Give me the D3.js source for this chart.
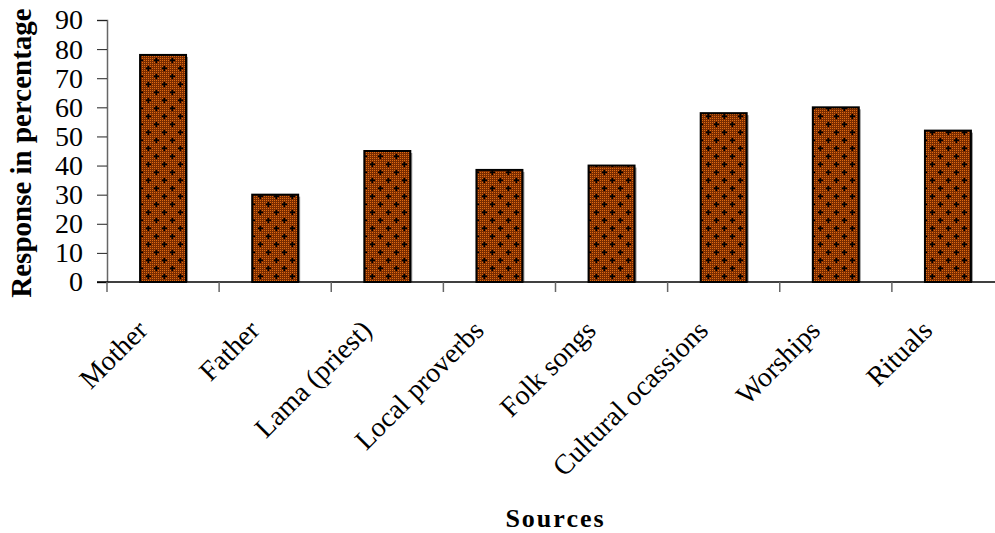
<!DOCTYPE html>
<html>
<head>
<meta charset="utf-8">
<script src="https://cdn.jsdelivr.net/npm/d3@7"></script>
<style>
  body { margin: 0; background: #fff; }
  svg { display: block; }
</style>
</head>
<body>
<div id="chart"></div>
<script>
// data
const sources = ["Mother", "Father", "Lama (priest)", "Local proverbs", "Folk songs", "Cultural ocassions", "Worships", "Rituals"];
const responses = [78, 30, 45, 38.5, 40, 58, 60, 52];
const yTicks = [0, 10, 20, 30, 40, 50, 60, 70, 80, 90];

const width = 995;
const height = 533;
const margin = {t: 20, b: 251, l: 107, r: -9};
const serif = "'Liberation Serif', 'Times New Roman', serif";

const svg = d3.select("#chart")
    .append("svg")
    .attr("width", width)
    .attr("height", height)
    .attr("viewBox", [0, 0, width, height]);

// hatch fill like the office chart: brown with orange dots and black crosses
const defs = svg.append("defs");
const pat = defs.append("pattern")
    .attr("id", "dots")
    .attr("patternUnits", "userSpaceOnUse")
    .attr("width", 16)
    .attr("height", 16);
pat.append("rect").attr("width", 16).attr("height", 16).attr("fill", "#7a2c00");
for (let i = 0; i < 16; i += 2) {
    for (let j = 0; j < 16; j += 2) {
        pat.append("rect")
            .attr("x", i)
            .attr("y", j)
            .attr("width", 1)
            .attr("height", 1)
            .attr("fill", "#dc6a12");
    }
}
[[4, 4], [12, 12]].forEach(([cx, cy]) => {
    pat.append("rect").attr("x", cx - 2).attr("y", cy - 0.5).attr("width", 5).attr("height", 1.5).attr("fill", "#000");
    pat.append("rect").attr("x", cx - 0.5).attr("y", cy - 2).attr("width", 1.5).attr("height", 5).attr("fill", "#000");
});

// scales
const xScale = d3.scaleBand()
    .domain(sources)
    .range([margin.l, width - margin.r])
    .paddingInner(0.59)
    .paddingOuter(0.295);

const yScale = d3.scaleLinear()
    .domain([0, 90])
    .range([height - margin.b, margin.t]);

// y axis
const yAxis = d3.axisLeft(yScale)
    .tickValues(yTicks)
    .tickSize(10)
    .tickPadding(14);
const gy = svg.append("g")
    .attr("transform", `translate(${margin.l}, 0)`)
    .call(yAxis);
gy.select(".domain").attr("stroke", "#666").attr("stroke-width", 1.5);
gy.selectAll(".tick line").attr("stroke", "#222");
gy.selectAll(".tick text")
    .attr("font-family", serif)
    .attr("font-size", "28px")
    .attr("fill", "#000");

// bars (shadow first)
svg.selectAll("rect.shadow")
    .data(responses)
    .enter()
    .append("rect")
    .attr("class", "shadow")
    .attr("x", (d, i) => xScale(sources[i]) + 2)
    .attr("y", d => yScale(d) + 2)
    .attr("width", xScale.bandwidth())
    .attr("height", d => yScale(0) - yScale(d) - 2)
    .attr("fill", "#999");

svg.selectAll("rect.bar")
    .data(responses)
    .enter()
    .append("rect")
    .attr("class", "bar")
    .attr("x", (d, i) => xScale(sources[i]))
    .attr("y", d => yScale(d))
    .attr("width", xScale.bandwidth())
    .attr("height", d => yScale(0) - yScale(d))
    .attr("fill", "url(#dots)")
    .attr("stroke", "#000")
    .attr("stroke-width", 2);

// x axis line and tick marks at category boundaries
const y0 = yScale(0);
svg.append("line")
    .attr("x1", margin.l - 10)
    .attr("x2", width)
    .attr("y1", y0)
    .attr("y2", y0)
    .attr("stroke", "#000")
    .attr("stroke-width", 1.5);

const step = xScale.step();
svg.selectAll("line.xtick")
    .data(sources)
    .enter()
    .append("line")
    .attr("class", "xtick")
    .attr("x1", d => xScale(d) + xScale.bandwidth() / 2 - step / 2)
    .attr("x2", d => xScale(d) + xScale.bandwidth() / 2 - step / 2)
    .attr("y1", y0)
    .attr("y2", y0 + 10)
    .attr("stroke", "#666")
    .attr("stroke-width", 1.5);

// category labels, rotated
svg.selectAll("text.xlabel")
    .data(sources)
    .enter()
    .append("text")
    .attr("class", "xlabel")
    .attr("transform", d => `translate(${xScale(d) + xScale.bandwidth() / 2 - 14}, ${y0 + 50}) rotate(-45)`)
    .attr("text-anchor", "end")
    .attr("font-family", serif)
    .attr("font-size", "28px")
    .attr("fill", "#000")
    .text(d => d);

// titles
svg.append("text")
    .attr("transform", `translate(31, ${(margin.t + y0) / 2 + 2}) rotate(-90)`)
    .attr("text-anchor", "middle")
    .attr("font-family", serif)
    .attr("font-weight", "bold")
    .attr("font-size", "29px")
    .attr("fill", "#000")
    .text("Response in percentage");

svg.append("text")
    .attr("x", (margin.l + width - margin.r) / 2)
    .attr("y", 527)
    .attr("text-anchor", "middle")
    .attr("font-family", serif)
    .attr("font-weight", "bold")
    .attr("font-size", "26px")
    .attr("letter-spacing", "2px")
    .attr("fill", "#000")
    .text("Sources");
</script>
</body>
</html>
